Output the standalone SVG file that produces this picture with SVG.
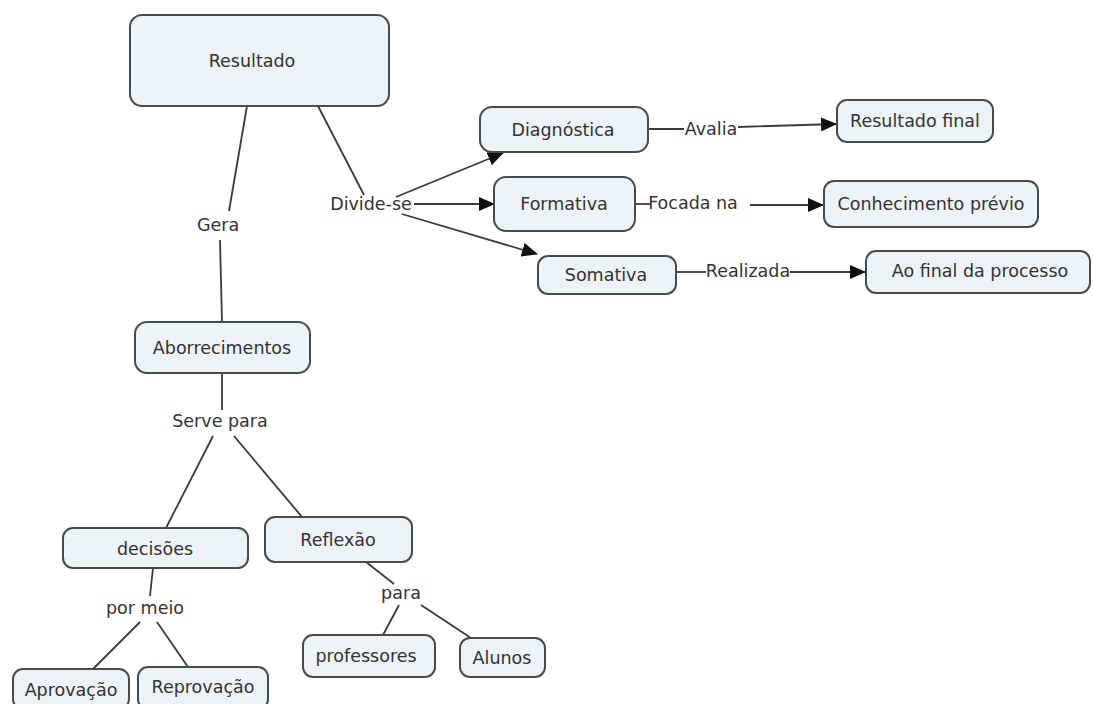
<svg xmlns="http://www.w3.org/2000/svg" width="1093" height="704" viewBox="0 0 1093 704">
<defs>
<style>
.n rect{fill:#ecf2f5;stroke:#4a4a4a;stroke-width:2}
text{font-family:"DejaVu Sans",Verdana,sans-serif;font-size:17.5px;fill:#333;text-anchor:middle;dominant-baseline:central}
.c line{stroke:#3a3a3a;stroke-width:1.8;fill:none}
</style>
<marker id="ah" markerWidth="16" markerHeight="14" refX="15" refY="7" orient="auto" markerUnits="userSpaceOnUse">
<path d="M0,0 L16,7 L0,14 Z" fill="#111"/>
</marker>
</defs>
<rect width="1093" height="704" fill="#fff"/>
<g class="c">
<line x1="318" y1="106" x2="364" y2="195"/>
<line x1="396" y1="197" x2="503" y2="153" marker-end="url(#ah)"/>
<line x1="414" y1="204" x2="494" y2="204" marker-end="url(#ah)"/>
<line x1="402" y1="214" x2="537" y2="254" marker-end="url(#ah)"/>
<line x1="648" y1="129" x2="684" y2="129"/>
<line x1="738" y1="127" x2="836" y2="124" marker-end="url(#ah)"/>
<line x1="635" y1="204" x2="651" y2="204"/>
<line x1="750" y1="205" x2="823" y2="205" marker-end="url(#ah)"/>
<line x1="676" y1="272" x2="706" y2="272"/>
<line x1="790" y1="272" x2="865" y2="272" marker-end="url(#ah)"/>
<line x1="247" y1="106" x2="229" y2="211"/>
<line x1="220" y1="240" x2="222" y2="322"/>
<line x1="222" y1="373" x2="222" y2="410"/>
<line x1="213" y1="436" x2="166" y2="528"/>
<line x1="234" y1="436" x2="302" y2="517"/>
<line x1="153" y1="568" x2="150" y2="596"/>
<line x1="140" y1="622" x2="93" y2="669"/>
<line x1="157" y1="622" x2="188" y2="667"/>
<line x1="366" y1="562" x2="394" y2="584"/>
<line x1="399" y1="605" x2="383" y2="635"/>
<line x1="421" y1="605" x2="471" y2="638"/>
</g>
<g id="resultado" class="n"><rect x="130" y="15" width="259" height="91" rx="12"/><text x="252" y="61">Resultado</text></g>
<g id="diagnostica" class="n"><rect x="480" y="107" width="168" height="45" rx="12"/><text x="563" y="130">Diagnóstica</text></g>
<g id="formativa" class="n"><rect x="494" y="177" width="141" height="54" rx="12"/><text x="564" y="204">Formativa</text></g>
<g id="somativa" class="n"><rect x="538" y="256" width="138" height="38" rx="10"/><text x="606" y="275">Somativa</text></g>
<g id="resultado-final" class="n"><rect x="837" y="100" width="156" height="42" rx="10"/><text x="915" y="121">Resultado final</text></g>
<g id="conhecimento" class="n"><rect x="824" y="181" width="214" height="46" rx="10"/><text x="931" y="204">Conhecimento prévio</text></g>
<g id="ao-final" class="n"><rect x="866" y="251" width="224" height="42" rx="10"/><text x="980" y="271">Ao final da processo</text></g>
<g id="aborrecimentos" class="n"><rect x="135" y="322" width="175" height="51" rx="12"/><text x="222" y="348">Aborrecimentos</text></g>
<g id="decisoes" class="n"><rect x="63" y="528" width="185" height="40" rx="10"/><text x="155" y="549">decisões</text></g>
<g id="reflexao" class="n"><rect x="265" y="517" width="147" height="45" rx="10"/><text x="338" y="540">Reflexão</text></g>
<g id="aprovacao" class="n"><rect x="13" y="669" width="116" height="40" rx="10"/><text x="71" y="690">Aprovação</text></g>
<g id="reprovacao" class="n"><rect x="138" y="667" width="130" height="42" rx="10"/><text x="203" y="687">Reprovação</text></g>
<g id="professores" class="n"><rect x="303" y="635" width="132" height="42" rx="10"/><text x="366" y="656">professores</text></g>
<g id="alunos" class="n"><rect x="460" y="638" width="85" height="39" rx="10"/><text x="502" y="658">Alunos</text></g>
<g id="labels">
<text x="371" y="204">Divide-se</text>
<text x="711" y="129">Avalia</text>
<text x="693" y="203">Focada na</text>
<text x="748" y="271">Realizada</text>
<text x="218" y="225">Gera</text>
<text x="220" y="421">Serve para</text>
<text x="145" y="608">por meio</text>
<text x="401" y="593">para</text>
</g>
</svg>
